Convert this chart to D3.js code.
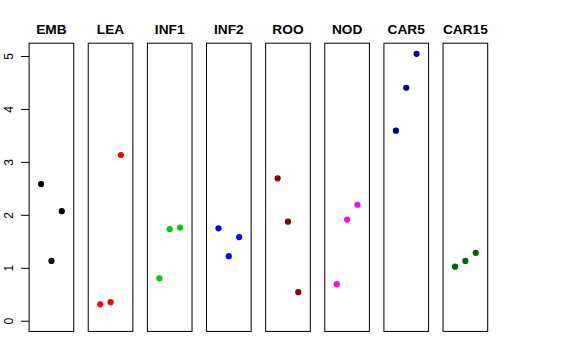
<!DOCTYPE html>
<html>
<head>
<meta charset="utf-8">
<script src="https://cdn.jsdelivr.net/npm/d3@7"></script>
<style>
  html, body { margin: 0; padding: 0; background: #fff; }
  svg { display: block; font-family: "Liberation Sans", Arial, Helvetica, sans-serif; }
</style>
</head>
<body>
<svg id="chart" width="576" height="360"></svg>
<script>
const categories = ["EMB", "LEA", "INF1", "INF2", "ROO", "NOD", "CAR5", "CAR15"];
const colors = ["#000000", "#FF0000", "#00CD00", "#0000FF", "#8B0000", "#FF00FF", "#00008B", "#006400"];
const rep1 = [2.58, 0.31, 0.80, 1.745, 2.69, 0.69, 3.59, 1.02];
const rep2 = [1.13, 0.35, 1.73, 1.22, 1.87, 1.91, 4.40, 1.13];
const rep3 = [2.07, 3.13, 1.76, 1.58, 0.54, 2.19, 5.04, 1.28];
const repPositions = [1, 2, 3];
const yTicks = [0, 1, 2, 3, 4, 5];

const svg = d3.select("#chart");

const panelX = d3.scaleBand()
  .domain(categories)
  .range([29.1, 487.7])
  .paddingInner(0.245)
  .paddingOuter(0);

const yMax = d3.max([...rep1, ...rep2, ...rep3]);
const y = d3.scaleLinear()
  .domain([-0.04 * yMax, yMax * 1.04])
  .range([331.4, 43.2]);

const bw = panelX.bandwidth();
const xIn = d3.scaleLinear().domain([-0.16, 4.16]).range([0, bw]);

const data = categories.map((c, i) => ({
  cat: c,
  color: colors[i],
  vals: [rep1[i], rep2[i], rep3[i]]
}));

const panels = svg.selectAll("g.panel")
  .data(data)
  .enter().append("g")
  .attr("class", "panel")
  .attr("transform", d => `translate(${panelX(d.cat)},0)`);

panels.append("rect")
  .attr("x", 0)
  .attr("y", y.range()[1])
  .attr("width", bw)
  .attr("height", y.range()[0] - y.range()[1])
  .attr("fill", "none")
  .attr("stroke", "#000")
  .attr("stroke-width", 1);

panels.append("text")
  .attr("x", bw / 2)
  .attr("y", 34)
  .attr("text-anchor", "middle")
  .attr("font-size", "13.7px")
  .attr("font-weight", "bold")
  .attr("fill", "#000")
  .text(d => d.cat);

panels.selectAll("circle")
  .data(d => d.vals.map((v, j) => ({ v, x: repPositions[j], color: d.color })))
  .enter().append("circle")
  .attr("cx", d => xIn(d.x))
  .attr("cy", d => y(d.v))
  .attr("r", 3.1)
  .attr("fill", d => d.color);

const axis = d3.axisLeft(y)
  .tickValues(yTicks)
  .tickFormat(d3.format("d"))
  .tickSize(8)
  .tickSizeOuter(0);

const ag = svg.append("g")
  .attr("transform", `translate(${panelX(categories[0])},0)`)
  .call(axis);

ag.select(".domain").remove();
ag.selectAll(".tick line").attr("stroke", "#000");
ag.selectAll(".tick text")
  .attr("x", null)
  .attr("dy", null)
  .attr("y", null)
  .attr("transform", "translate(-16,0) rotate(-90)")
  .attr("text-anchor", "middle")
  .attr("font-size", "12px")
  .attr("font-family", "Liberation Sans, Arial, sans-serif")
  .attr("fill", "#000");
</script>
</body>
</html>
